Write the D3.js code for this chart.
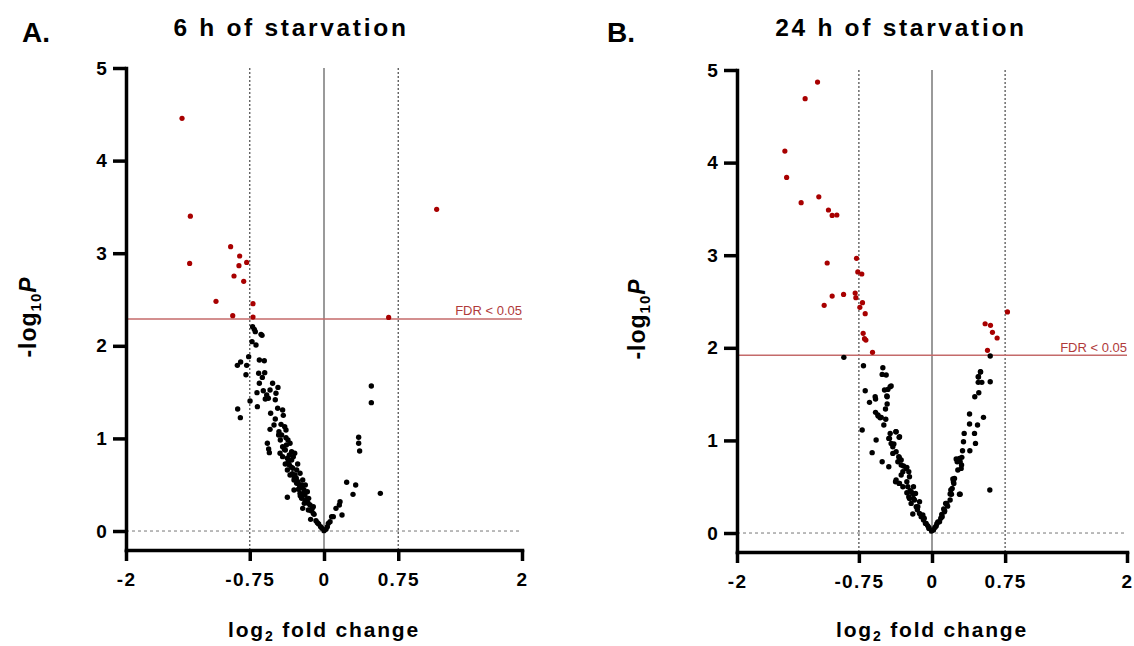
<!DOCTYPE html>
<html><head><meta charset="utf-8">
<script src="https://cdn.jsdelivr.net/npm/d3@7"></script>
<style>
html,body{margin:0;padding:0;background:#fff;}
svg{display:block;}
text{font-family:"Liberation Sans",Arial,Helvetica,sans-serif;}
</style></head>
<body>
<svg id="chart" width="1134" height="646"></svg>
<script>
// ---------- DATA ----------
const xTicks = [-2, -0.75, 0, 0.75, 2];
const yTicks = [0, 1, 2, 3, 4, 5];
const foldCutoffs = [-0.75, 0.75];
const titles = ["6 h of starvation", "24 h of starvation"];
const panelLetters = ["A.", "B."];
const fdrThresholds = [2.29, 1.92];
const fdrLabel = "FDR < 0.05";

// 6 h: significant (red)
const sig6h = [[-1.434,4.457],[-1.35,3.40],[-1.357,2.89],[-0.943,3.07],[-0.852,2.97],[-0.781,2.90],[-0.859,2.865],
[-0.909,2.754],[-0.811,2.696],[-1.091,2.48],[-0.717,2.455],[-0.922,2.325],[-0.717,2.31],[0.653,2.307],[1.138,3.474]];

// 6 h: not significant (black)
const ns6h = [[-0.721,2.207],[-0.704,2.178],[-0.694,2.153],[-0.636,2.124],[-0.626,2.113],[-0.727,2.045],[-0.687,2.009],
[-0.761,1.883],[-0.653,1.847],[-0.603,1.839],[-0.875,1.789],[-0.842,1.825],[-0.781,1.789],[-0.788,1.688],[-0.66,1.703],
[-0.599,1.71],[-0.623,1.659],[-0.653,1.595],[-0.519,1.595],[-0.465,1.551],[-0.545,1.523],[-0.613,1.515],[-0.677,1.494],
[-0.579,1.469],[-0.485,1.487],[-0.562,1.433],[-0.593,1.426],[-0.492,1.418],[-0.747,1.404],[-0.673,1.343],[-0.872,1.318],
[-0.845,1.224],[-0.468,1.325],[-0.418,1.307],[-0.539,1.271],[-0.411,1.249],[-0.492,1.21],[-0.505,1.145],[-0.434,1.152],
[-0.397,1.127],[-0.384,1.091],[-0.545,1.098],[-0.455,1.073],[-0.428,1.037],[-0.384,1.008],[-0.458,1.037],[-0.572,0.947],
[-0.559,0.886],[-0.552,0.846],[-0.441,0.983],[-0.364,0.983],[-0.343,0.947],[-0.418,0.911],[-0.444,0.839],[-0.391,0.875],
[-0.327,0.857],[-0.35,0.821],[-0.296,0.839],[-0.418,0.803],[-0.37,0.785],[-0.327,0.767],[-0.31,0.803],[-0.391,0.724],
[-0.35,0.713],[-0.266,0.724],[-0.37,0.659],[-0.316,0.677],[-0.276,0.659],[-0.343,0.605],[-0.293,0.605],[-0.242,0.623],
[-0.303,0.551],[-0.263,0.533],[-0.215,0.551],[-0.276,0.515],[-0.226,0.497],[-0.189,0.497],[-0.249,0.461],[-0.202,0.443],
[-0.303,0.443],[-0.242,0.407],[-0.192,0.389],[-0.168,0.425],[-0.226,0.353],[-0.182,0.335],[-0.155,0.353],[-0.199,0.299],
[-0.215,0.245],[-0.141,0.281],[-0.108,0.263],[-0.158,0.227],[-0.108,0.191],[-0.135,0.126],[-0.081,0.112],[-0.067,0.09],
[-0.054,0.076],[-0.034,0.047],[-0.02,0.029],[0,0.004],[-0.37,0.364],
[-0.30,0.58],[-0.28,0.57],[-0.25,0.50],[-0.22,0.47],[-0.21,0.40],[-0.17,0.34],[-0.16,0.30],[-0.13,0.22],[-0.12,0.24],
[-0.10,0.18],[-0.33,0.69],[-0.36,0.75],[-0.40,0.88],[-0.38,0.93],[-0.32,0.62],[-0.26,0.45],[-0.24,0.38],[-0.19,0.33],
[0.02,0.018],[0.034,0.047],[0.044,0.083],[0.061,0.101],[0.077,0.155],[0.094,0.155],[0.121,0.245],[0.162,0.317],
[0.155,0.281],[0.182,0.173],[0.229,0.526],[0.32,0.497],[0.293,0.396],[0.35,1.012],[0.35,0.947],[0.36,0.864],
[0.478,1.566],[0.478,1.386],[0.569,0.407]];

// 24 h: significant (red)
const sig24h = [[-1.174,4.87],[-1.301,4.69],[-1.509,4.125],[-1.491,3.84],[-1.161,3.63],[-1.342,3.567],[-1.062,3.488],
[-1.024,3.43],[-0.976,3.434],[-1.075,2.916],[-0.774,2.966],[-0.761,2.819],[-0.72,2.797],[-0.907,2.577],[-1.024,2.559],
[-1.106,2.459],[-0.788,2.592],[-0.781,2.541],[-0.713,2.487],[-0.74,2.437],[-0.685,2.369],[-0.706,2.156],[-0.692,2.099],
[-0.678,2.084],[-0.61,1.951],[0.774,2.387],[0.545,2.26],[0.60,2.243],[0.62,2.167],[0.668,2.106],[0.569,1.973]];

// 24 h: not significant (black)
const ns24h = [[-0.904,1.897],[-0.703,1.807],[-0.504,1.785],[-0.511,1.713],[-0.47,1.706],[-0.429,1.58],[-0.453,1.551],
[-0.487,1.544],[-0.685,1.537],[-0.583,1.472],[-0.579,1.447],[-0.46,1.472],[-0.641,1.411],[-0.46,1.393],[-0.477,1.339],
[-0.579,1.303],[-0.552,1.264],[-0.532,1.245],[-0.474,1.228],[-0.494,1.166],[-0.716,1.112],[-0.371,1.094],[-0.429,1.076],
[-0.337,1.033],[-0.436,1.022],[-0.573,1.004],[-0.419,0.968],[-0.402,0.932],[-0.614,0.868],[-0.402,0.86],[-0.337,0.817],
[-0.35,0.77],[-0.511,0.77],[-0.443,0.716],[-0.316,0.734],[-0.258,0.709],[-0.299,0.662],[-0.316,0.626],[-0.231,0.608],
[-0.374,0.554],[-0.337,0.536],[-0.258,0.554],[-0.19,0.5],[-0.214,0.446],[-0.258,0.436],[-0.169,0.428],[-0.231,0.374],
[-0.19,0.374],[-0.214,0.32],[-0.128,0.338],[-0.145,0.284],[-0.197,0.205],[-0.128,0.212],[-0.111,0.176],[-0.087,0.14],
[-0.06,0.104],[-0.032,0.061],[-0.005,0.022],
[-0.419,1.587],[-0.463,1.479],[-0.555,1.274],[-0.521,1.249],[-0.368,1.094],[-0.333,1.04],[-0.443,1.022],[-0.391,0.961],
[-0.368,0.878],[-0.34,0.824],[-0.316,0.788],[-0.292,0.724],[-0.265,0.698],[-0.238,0.662],[-0.368,0.572],[-0.333,0.536],
[-0.299,0.5],[-0.248,0.5],[-0.224,0.457],[-0.197,0.428],[-0.238,0.392],[-0.18,0.356],[-0.162,0.284],[-0.094,0.194],
[-0.067,0.104],[-0.032,0.05],[-0.15,0.25],[-0.08,0.16],[-0.045,0.08],
[0.015,0.032],[0.043,0.076],[0.077,0.122],[0.104,0.176],[0.128,0.23],[0.152,0.32],[0.186,0.356],[0.2,0.418],[0.282,0.418],
[0.207,0.482],[0.224,0.536],[0.231,0.59],[0.265,0.68],[0.299,0.698],[0.258,0.77],[0.282,0.806],[0.306,0.817],[0.313,0.889],
[0.388,0.889],[0.323,0.986],[0.446,0.968],[0.33,1.076],[0.436,1.076],[0.385,1.177],[0.467,1.166],[0.385,1.285],[0.528,1.249],
[0.439,1.472],[0.48,1.515],[0.474,1.627],[0.511,1.627],[0.474,1.688],[0.498,1.739],[0.597,1.634],[0.597,1.911],[0.593,0.464],
[0.497,1.742],[0.477,1.685],[0.248,0.799],[0.289,0.77],[0.303,0.734],[0.214,0.583],[0.22,0.554],[0.193,0.464],[0.186,0.421],
[0.289,0.418],[0.14,0.32],[0.16,0.29],[0.12,0.26],[0.13,0.24],[0.10,0.20],[0.09,0.16],[0.06,0.12],[0.05,0.10],[0.03,0.06]];

const sigSets = [sig6h, sig24h];
const nsSets = [ns6h, ns24h];

// ---------- LAYOUT ----------
const layouts = [
  {left:126, right:522, top:68, bottom:550, titleX:291, letterX:22, ylabX:36},
  {left:737, right:1127, top:70, bottom:552, titleX:901, letterX:607, ylabX:645}
];
const yFloor = -0.205;
const RED = "#a80000";

const svg = d3.select("#chart");

layouts.forEach((L, i) => {
  const g = svg.append("g");
  const x = d3.scaleLinear().domain([-2, 2]).range([L.left, L.right]);
  const y = d3.scaleLinear().domain([yFloor, 5]).range([L.bottom, L.top]);

  // reference lines
  foldCutoffs.forEach(v => {
    g.append("line").attr("x1", x(v)).attr("x2", x(v)).attr("y1", y(5)).attr("y2", y(yFloor))
      .attr("stroke", "#555").attr("stroke-width", 1.3).attr("stroke-dasharray", "2,2");
  });
  g.append("line").attr("x1", x(0)).attr("x2", x(0)).attr("y1", y(5)).attr("y2", y(yFloor))
    .attr("stroke", "#9a9a9a").attr("stroke-width", 2);
  g.append("line").attr("x1", x(-2)).attr("x2", x(2)).attr("y1", y(0)).attr("y2", y(0))
    .attr("stroke", "#777").attr("stroke-width", 1).attr("stroke-dasharray", "3,3");
  // FDR line
  g.append("line").attr("x1", x(-2)).attr("x2", x(2)).attr("y1", y(fdrThresholds[i])).attr("y2", y(fdrThresholds[i]))
    .attr("stroke", "#c46a6a").attr("stroke-width", 1.5);
  g.append("text").attr("x", x(2)).attr("y", y(fdrThresholds[i]) - 3.5).attr("text-anchor", "end")
    .attr("font-size", 13).attr("fill", "#b03a3a").text(fdrLabel);

  // points
  g.append("g").selectAll("circle").data(nsSets[i]).join("circle")
    .attr("cx", d => x(d[0])).attr("cy", d => y(d[1])).attr("r", 2.7).attr("fill", "#000");
  g.append("g").selectAll("circle").data(sigSets[i]).join("circle")
    .attr("cx", d => x(d[0])).attr("cy", d => y(d[1])).attr("r", 2.6).attr("fill", RED);

  // axes
  const ax = g.append("g").attr("transform", `translate(0,${L.bottom})`)
    .call(d3.axisBottom(x).tickValues(xTicks).tickSize(11).tickPadding(12).tickSizeOuter(0).tickFormat(d => String(d)));
  const ay = g.append("g").attr("transform", `translate(${L.left},0)`)
    .call(d3.axisLeft(y).tickValues(yTicks).tickSize(13).tickPadding(5).tickSizeOuter(0).tickFormat(d => String(d)));
  [ax, ay].forEach(a => {
    a.select(".domain").attr("stroke", "#000").attr("stroke-width", 3.5).attr("stroke-linecap", "square");
    a.selectAll(".tick line").attr("stroke", "#000").attr("stroke-width", 3.5);
    a.selectAll(".tick text").attr("font-size", 19).attr("font-weight", "bold").attr("fill", "#000")
      .style("font-family", '"Liberation Sans",Arial,sans-serif').style("letter-spacing", "1.3px");
  });

  // title & panel letter
  svg.append("text").attr("x", L.titleX).attr("y", 36).attr("text-anchor", "middle")
    .attr("font-size", 24.5).attr("font-weight", "bold").style("letter-spacing", "2.7px").text(titles[i]);
  svg.append("text").attr("x", L.letterX).attr("y", 42)
    .attr("font-size", 28).attr("font-weight", "bold").text(panelLetters[i]);

  // x label
  const cx = x(0);
  const xl = svg.append("text").attr("x", cx).attr("y", 637).attr("text-anchor", "middle")
    .attr("font-size", 21).attr("font-weight", "bold").style("letter-spacing", "1.8px");
  xl.append("tspan").text("log");
  xl.append("tspan").attr("font-size", 14).attr("dy", 4).text("2");
  xl.append("tspan").attr("dy", -4).text(" fold change");

  // y label
  const cy = (L.top + L.bottom) / 2 + 8;
  const yl = svg.append("text").attr("transform", `translate(${L.ylabX},${cy}) rotate(-90)`)
    .attr("text-anchor", "middle").attr("font-size", 23).attr("font-weight", "bold").style("letter-spacing", "1px");
  yl.append("tspan").text("-log");
  yl.append("tspan").attr("font-size", 15).attr("dy", 5).text("10");
  yl.append("tspan").attr("dy", -5).attr("font-style", "italic").text("P");
});
</script>
</body></html>
